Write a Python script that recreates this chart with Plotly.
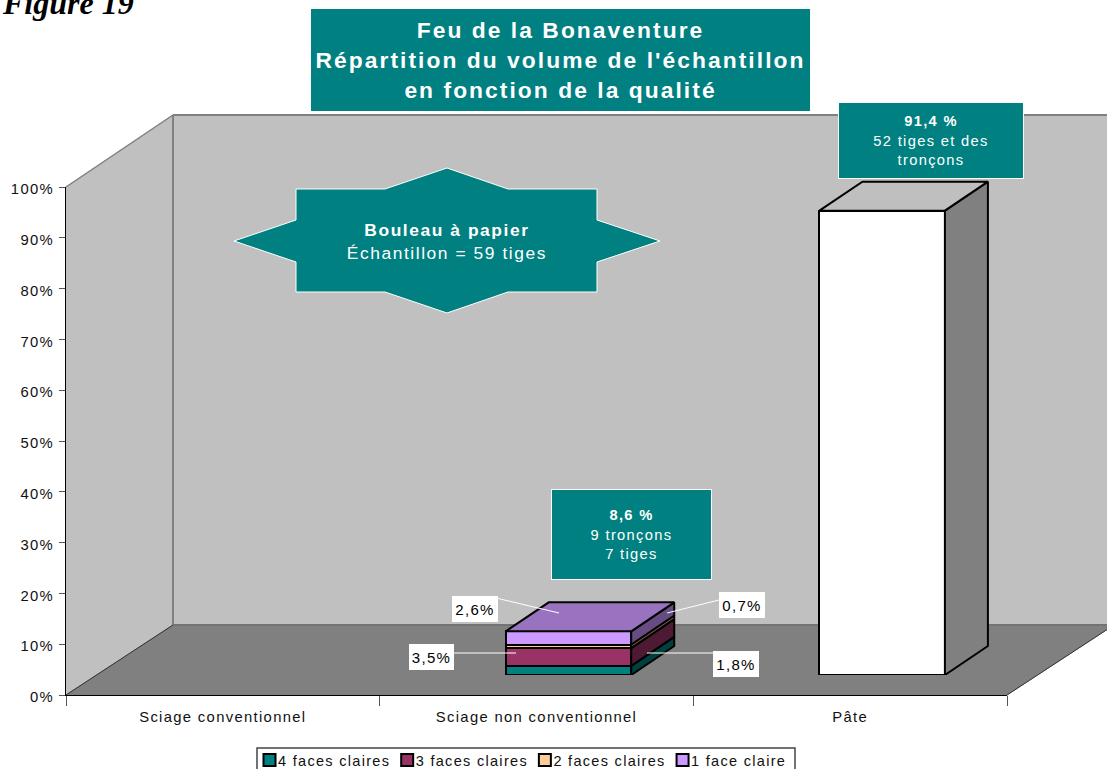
import plotly.graph_objects as go

# ---- data ----
CATEGORIES = ["Sciage conventionnel", "Sciage non conventionnel", "Pâte"]
FACES_4 = [None, 1.8, None]
FACES_3 = [None, 3.5, None]
FACES_2 = [None, 0.7, None]
FACES_1 = [None, 2.6, None]
PATE = [None, None, 91.4]
Y_TICKS = [0, 10, 20, 30, 40, 50, 60, 70, 80, 90, 100]
Y_LABELS = ["0%", "10%", "20%", "30%", "40%", "50%", "60%", "70%", "80%", "90%", "100%"]

SERIES = [
    ("4 faces claires", FACES_4, (0, 128, 128), True),
    ("3 faces claires", FACES_3, (153, 51, 102), True),
    ("2 faces claires", FACES_2, (255, 204, 153), True),
    ("1 face claire", FACES_1, (204, 153, 255), True),
    ("Pâte", PATE, (255, 255, 255), False),
]

# ---- page geometry (pixels) ----
W, H = 1107, 769
AX_L, AX_R, AX_B, AX_T = 66, 1007, 695, 187
BAR_SHIFT_X, BAR_SHIFT_Y = 32, 20      # bars stand half way into the 3-D depth
WALL_DX, WALL_DY = 107, 70             # full depth of the floor
BAR_DX, BAR_DY = 43, 29                # depth of a bar
TEAL = "#008080"


def fx(px):
    return px / W


def fy(py):
    return 1 - py / H


def shade(rgb, k):
    return "rgb(%d,%d,%d)" % tuple(round(c * k) for c in rgb)


cat_px = (AX_R - AX_L) / len(CATEGORIES)
val_px = (AX_B - AX_T) / 100
depth_x = BAR_DX / cat_px
depth_y = BAR_DY / val_px
half = 0.2

fig = go.Figure()

# invisible trace that gives the visible category axis its labels
fig.add_trace(go.Scatter(x=CATEGORIES, y=[0] * 3, mode="none", showlegend=False,
                         hoverinfo="skip", xaxis="x", yaxis="y"))

positions = list(range(len(CATEGORIES)))
for name, values, rgb, in_legend in SERIES:
    fig.add_trace(go.Bar(x=positions, y=values, name=name, showlegend=in_legend,
                         marker=dict(color=shade(rgb, 1), line=dict(color="black", width=2)),
                         xaxis="x2", yaxis="y2"))

# side and top faces, computed from the stacked values
base = [0.0] * 3
for name, values, rgb, _ in SERIES:
    for i, v in enumerate(values):
        if not v:
            continue
        lo, hi = base[i], base[i] + v
        xr = i + half
        fig.add_trace(go.Scatter(
            x=[xr, xr + depth_x, xr + depth_x, xr, xr],
            y=[lo, lo + depth_y, hi + depth_y, hi, lo],
            mode="lines", fill="toself", fillcolor=shade(rgb, 0.5),
            line=dict(color="black", width=2), showlegend=False, hoverinfo="skip",
            xaxis="x2", yaxis="y2"))
        base[i] = hi
for i, total in enumerate(base):
    if total <= 0:
        continue
    top_rgb = [s[2] for s in SERIES if s[1][i]][-1]
    xl, xr = i - half, i + half
    fig.add_trace(go.Scatter(
        x=[xl, xr, xr + depth_x, xl + depth_x, xl],
        y=[total, total, total + depth_y, total + depth_y, total],
        mode="lines", fill="toself", fillcolor=shade(top_rgb, 0.75),
        line=dict(color="black", width=2), showlegend=False, hoverinfo="skip",
        xaxis="x2", yaxis="y2"))


def poly(points, fill, line=None, width=1, layer="below"):
    path = "M " + " L ".join(f"{fx(x):.5f},{fy(y):.5f}" for x, y in points) + " Z"
    return dict(type="path", path=path, xref="paper", yref="paper", fillcolor=fill,
                line=dict(color=line or fill, width=width), layer=layer)


def seg(x0, y0, x1, y1, color, width=1, layer="below"):
    return dict(type="line", xref="paper", yref="paper", x0=fx(x0), y0=fy(y0),
                x1=fx(x1), y1=fy(y1), line=dict(color=color, width=width), layer=layer)


bx, by = AX_L + WALL_DX, AX_T - 72
fb = AX_B - WALL_DY
shapes = [
    poly([(bx, by), (W + 2, by), (W + 2, fb), (bx, fb)], "#C0C0C0"),
    poly([(AX_L, AX_T), (bx, by), (bx, fb), (AX_L, AX_B)], "#C0C0C0"),
    poly([(AX_L, AX_B), (bx, fb), (AX_R + WALL_DX, fb), (AX_R, AX_B)], "#808080"),
    seg(bx, by, W + 2, by, "#808080", 2),
    seg(bx, by, bx, fb, "#808080", 2),
    seg(AX_L, AX_T, bx, by, "#808080", 1.5),
    seg(bx, fb, W + 2, fb, "#737373", 2),
    seg(AX_L, AX_B, bx, fb, "#333333", 1),
    seg(AX_R, AX_B, AX_R + WALL_DX, fb, "#333333", 1),
    # star
    poly([(447, 168), (508, 189), (597, 189), (597, 220), (660, 241), (597, 262), (597, 292),
          (508, 292), (447, 313), (385, 292), (296, 292), (296, 262), (234, 241), (296, 220),
          (296, 189), (385, 189)],
         TEAL, "white", 1, "above"),
    # leaders
    seg(496, 598, 559, 613, "white", 1, "above"),
    seg(719, 600, 667, 613, "white", 1, "above"),
    seg(454, 653, 516, 653, "white", 1, "above"),
    seg(713, 653, 647, 653, "white", 1, "above"),
    # legend frame
    dict(type="rect", xref="paper", yref="paper", x0=fx(257), x1=fx(795), y0=fy(748), y1=fy(775),
         fillcolor="white", line=dict(color="#444444", width=1.5), layer="above"),
]


def box(x0, y0, x1, y1, text, size, fill=TEAL, color="white", edge=0):
    return dict(xref="paper", yref="paper", x=fx(x0), y=fy(y0), xanchor="left", yanchor="top",
                width=x1 - x0 - 2 * edge, height=y1 - y0 - 2 * edge, showarrow=False, text=text,
                align="center", valign="middle", bgcolor=fill, bordercolor="white",
                borderwidth=edge, borderpad=0,
                font=dict(family="Liberation Sans, Arial", size=size, color=color))


annotations = [
    dict(xref="paper", yref="paper", x=fx(1), y=fy(-16), xanchor="left", yanchor="top",
         showarrow=False, text="<b><i>Figure 19</i></b>", borderpad=0,
         font=dict(family="Liberation Serif, Times New Roman", size=32, color="black")),
    box(311, 9, 810, 111,
        "<b>Feu de la Bonaventure<br>Répartition du volume de l'échantillon<br>en fonction de la qualité</b>",
        22.8),
    box(838, 102, 1024, 179, "<b>91,4 %</b><br>52 tiges et des<br>tronçons", 14.7, edge=1),
    box(551, 489, 712, 580, "<b>8,6 %</b><br>9 tronçons<br>7 tiges", 14.7, edge=1),
    dict(xref="paper", yref="paper", x=fx(447), y=fy(241), xanchor="center", yanchor="middle",
         showarrow=False, align="center",
         text="<b>Bouleau à papier</b><br>Échantillon = 59 tiges",
         font=dict(family="Liberation Sans, Arial", size=17.4, color="white")),
    box(452, 596, 498, 622, "2,6%", 15, "white", "black"),
    box(719, 592, 765, 618, "0,7%", 15, "white", "black"),
    box(409, 644, 454, 670, "3,5%", 15, "white", "black"),
    box(713, 651, 759, 677, "1,8%", 15, "white", "black"),
]

axis_font = dict(family="Liberation Sans, Arial", size=14.8, color="#111111")
fig.update_layout(
    width=W, height=H, margin=dict(l=0, r=0, t=0, b=0, autoexpand=False),
    paper_bgcolor="white", plot_bgcolor="rgba(0,0,0,0)",
    barmode="stack", bargap=0.6, showlegend=True,
    shapes=shapes, annotations=annotations,
    font=axis_font,
    xaxis=dict(domain=[fx(AX_L), fx(AX_R)], type="category", categoryorder="array",
               categoryarray=CATEGORIES, range=[-0.5, 2.5], tickson="boundaries",
               ticks="outside", ticklen=10, tickcolor="#555555", tickwidth=1,
               showline=True, linecolor="black", linewidth=1, showgrid=False,
               zeroline=False, tickfont=axis_font, fixedrange=True, anchor="y",
               ticklabelstandoff=8),
    yaxis=dict(domain=[fy(AX_B), fy(AX_T)], range=[0, 100], tickmode="array",
               tickvals=Y_TICKS, ticktext=Y_LABELS, ticks="outside", ticklen=6,
               tickcolor="#555555", tickwidth=1, showline=True, linecolor="black",
               linewidth=1, showgrid=False, zeroline=False, tickfont=axis_font,
               fixedrange=True, anchor="x", ticklabelstandoff=2, ticklabelshift=2),
    xaxis2=dict(domain=[fx(AX_L + BAR_SHIFT_X), fx(AX_R + BAR_SHIFT_X)], range=[-0.5, 2.5],
                anchor="y2", visible=False, fixedrange=True),
    yaxis2=dict(domain=[fy(AX_B - BAR_SHIFT_Y), fy(AX_T - BAR_SHIFT_Y)], range=[0, 100],
                anchor="x2", visible=False, fixedrange=True),
    legend=dict(orientation="h", x=fx(238), y=fy(744), xanchor="left", yanchor="top",
                bgcolor="rgba(0,0,0,0)", borderwidth=0,
                font=dict(family="Liberation Sans, Arial", size=14.5, color="#111111"),
                traceorder="normal", itemclick=False, itemdoubleclick=False),
)

post = """
document.body.style.margin = '0';
var s = document.createElement('style');
s.textContent = '.main-svg text { letter-spacing: 0.09em; }'
  + ' .annotation[data-index="0"] text { letter-spacing: 0; }'
  + ' .legend .scrollbox { clip-path: none; }'
  + ' .legend .legendsymbols { transform: translate(11.5px, 0); }';
document.head.appendChild(s);
"""
fig.write_html("out.html", config={"displayModeBar": False}, post_script=post)
